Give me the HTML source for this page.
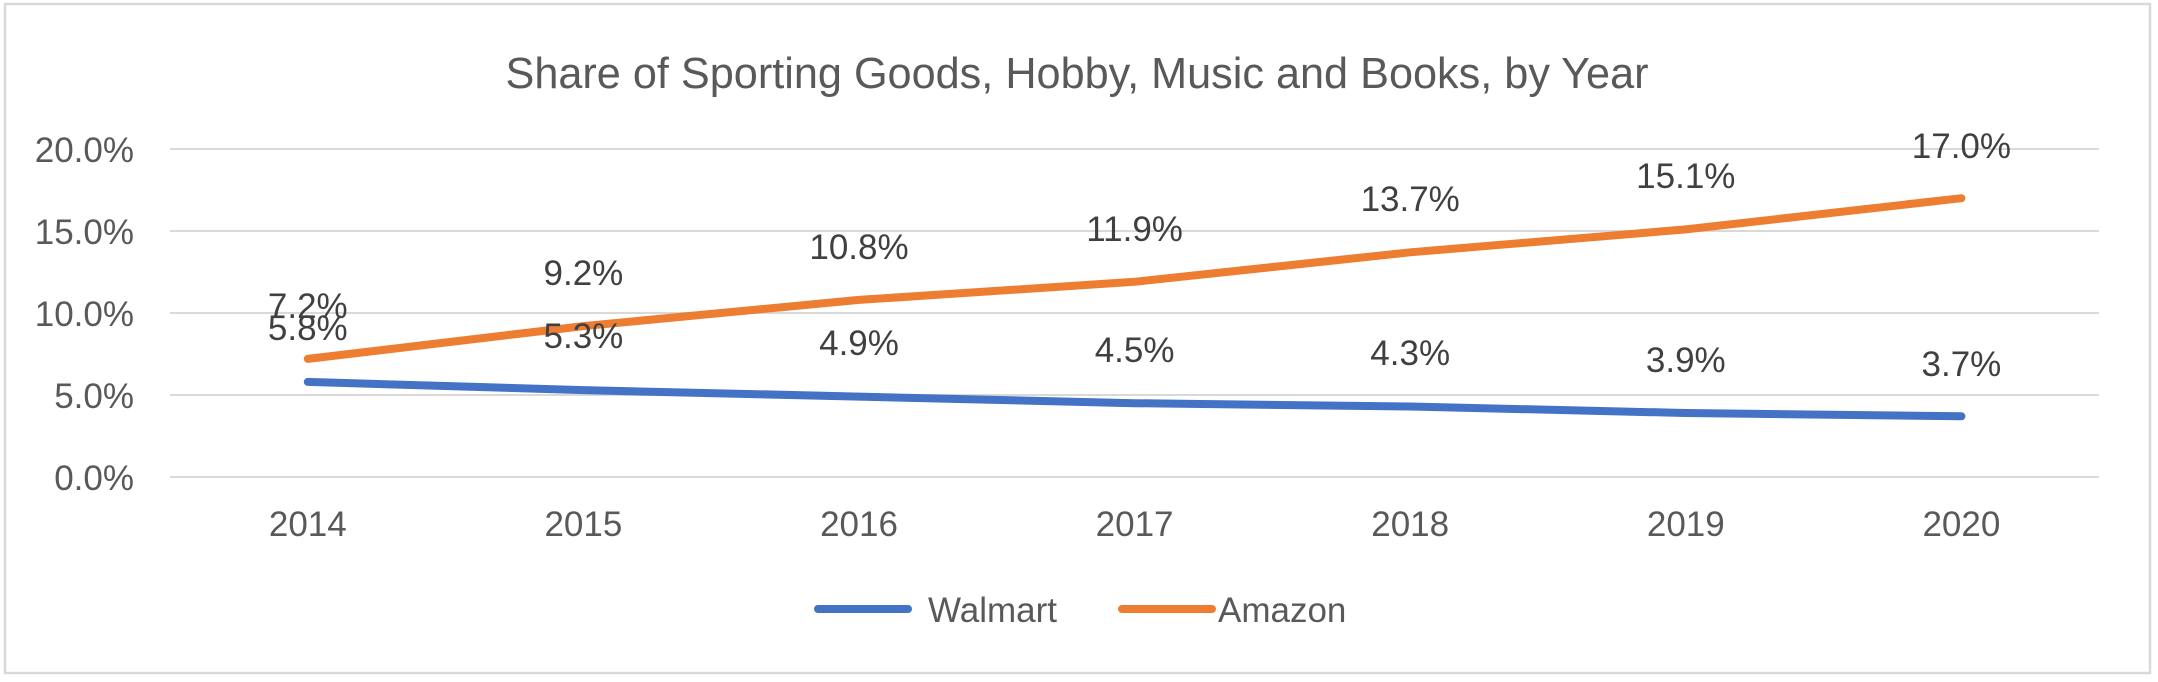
<!DOCTYPE html>
<html><head><meta charset="utf-8"><style>
html,body{margin:0;padding:0;background:#fff;}
svg{display:block;font-family:"Liberation Sans",sans-serif;}
</style></head><body>
<svg width="2158" height="682" viewBox="0 0 2158 682" xmlns="http://www.w3.org/2000/svg">
<rect x="0" y="0" width="2158" height="682" fill="#fff"/>
<rect x="5" y="4" width="2145" height="669" fill="none" stroke="#d9d9d9" stroke-width="2.5"/>
<text x="1077" y="88" font-size="44" fill="#595959" text-anchor="middle" textLength="1143" lengthAdjust="spacingAndGlyphs">Share of Sporting Goods, Hobby, Music and Books, by Year</text>
<g stroke="#d9d9d9" stroke-width="2">
<line x1="170" y1="149" x2="2099" y2="149"/>
<line x1="170" y1="231" x2="2099" y2="231"/>
<line x1="170" y1="313" x2="2099" y2="313"/>
<line x1="170" y1="395" x2="2099" y2="395"/>
<line x1="170" y1="477" x2="2099" y2="477"/>
</g>
<g font-size="35" fill="#595959" text-anchor="end">
<text x="134" y="162">20.0%</text>
<text x="134" y="244">15.0%</text>
<text x="134" y="326">10.0%</text>
<text x="134" y="408">5.0%</text>
<text x="134" y="490">0.0%</text>
</g>
<g font-size="35" fill="#595959" text-anchor="middle">
<text x="307.8" y="536">2014</text>
<text x="583.4" y="536">2015</text>
<text x="859" y="536">2016</text>
<text x="1134.6" y="536">2017</text>
<text x="1410.2" y="536">2018</text>
<text x="1685.8" y="536">2019</text>
<text x="1961.4" y="536">2020</text>
</g>
<polyline fill="none" stroke="#4472C4" stroke-width="8" stroke-linecap="round" stroke-linejoin="round" points="307.8,381.9 583.4,390.1 859,396.6 1134.6,403.2 1410.2,406.5 1685.8,413 1961.4,416.3"/>
<polyline fill="none" stroke="#ED7D31" stroke-width="8" stroke-linecap="round" stroke-linejoin="round" points="307.8,358.9 583.4,326.1 859,299.9 1134.6,281.8 1410.2,252.3 1685.8,229.4 1961.4,198.2"/>
<g font-size="35" fill="#404040" text-anchor="middle">
<text x="307.8" y="318">7.2%</text>
<text x="583.4" y="285">9.2%</text>
<text x="859" y="259">10.8%</text>
<text x="1134.6" y="241">11.9%</text>
<text x="1410.2" y="211">13.7%</text>
<text x="1685.8" y="188">15.1%</text>
<text x="1961.4" y="158">17.0%</text>
<text x="307.8" y="340">5.8%</text>
<text x="583.4" y="348">5.3%</text>
<text x="859" y="355">4.9%</text>
<text x="1134.6" y="362">4.5%</text>
<text x="1410.2" y="365">4.3%</text>
<text x="1685.8" y="372">3.9%</text>
<text x="1961.4" y="376">3.7%</text>
</g>
<line x1="818" y1="609" x2="908" y2="609" stroke="#4472C4" stroke-width="8" stroke-linecap="round"/>
<text x="928" y="622" font-size="35" fill="#595959">Walmart</text>
<line x1="1122" y1="609" x2="1212" y2="609" stroke="#ED7D31" stroke-width="8" stroke-linecap="round"/>
<text x="1218" y="622" font-size="35" fill="#595959">Amazon</text>
</svg>
</body></html>
